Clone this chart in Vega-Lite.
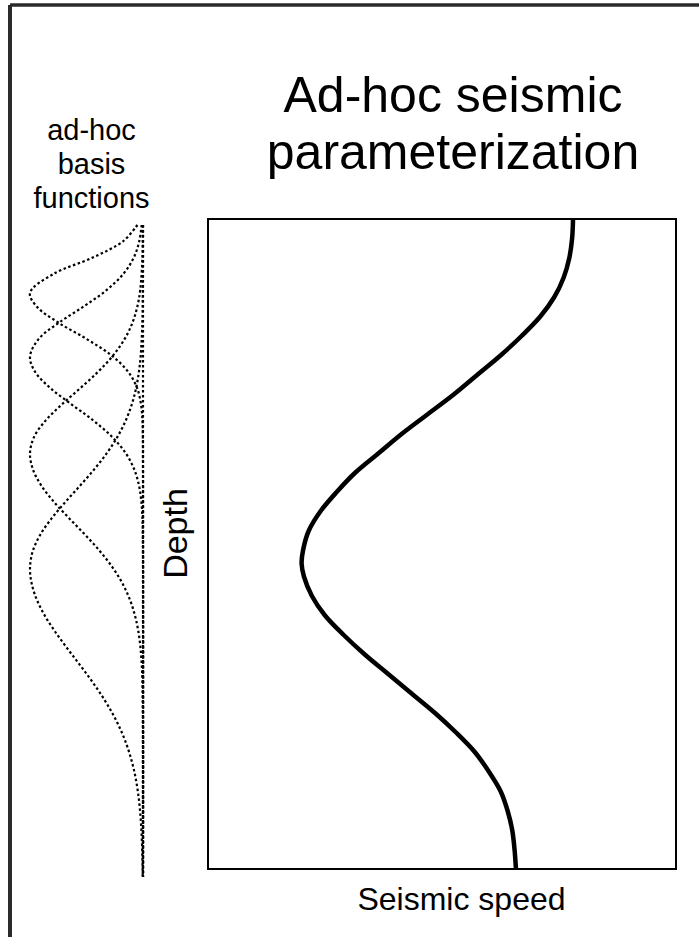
{
  "$schema": "https://vega.github.io/schema/vega-lite/v6.json",
  "padding": {"left": 7, "top": 3, "right": 0, "bottom": 0},
  "config": {
    "font": "Liberation Sans",
    "view": {"stroke": "black", "strokeWidth": 2},
    "title": {"fontWeight": "normal", "color": "black", "font": "Liberation Sans"},
    "axis": {"titleFontWeight": "normal", "titleColor": "black", "titleFont": "Liberation Sans"}
  },
  "datasets": {
    "speed": [
      {"depth": 0.00, "speed": 0.78},
      {"depth": 0.03, "speed": 0.778},
      {"depth": 0.06, "speed": 0.772},
      {"depth": 0.09, "speed": 0.76},
      {"depth": 0.12, "speed": 0.74},
      {"depth": 0.15, "speed": 0.71},
      {"depth": 0.18, "speed": 0.67},
      {"depth": 0.21, "speed": 0.625},
      {"depth": 0.24, "speed": 0.575},
      {"depth": 0.27, "speed": 0.525},
      {"depth": 0.30, "speed": 0.47},
      {"depth": 0.33, "speed": 0.415},
      {"depth": 0.36, "speed": 0.365},
      {"depth": 0.39, "speed": 0.315},
      {"depth": 0.42, "speed": 0.275},
      {"depth": 0.45, "speed": 0.24},
      {"depth": 0.48, "speed": 0.215},
      {"depth": 0.51, "speed": 0.203},
      {"depth": 0.53, "speed": 0.2},
      {"depth": 0.55, "speed": 0.205},
      {"depth": 0.58, "speed": 0.222},
      {"depth": 0.61, "speed": 0.25},
      {"depth": 0.64, "speed": 0.29},
      {"depth": 0.67, "speed": 0.335},
      {"depth": 0.70, "speed": 0.385},
      {"depth": 0.73, "speed": 0.435},
      {"depth": 0.76, "speed": 0.485},
      {"depth": 0.79, "speed": 0.53},
      {"depth": 0.82, "speed": 0.57},
      {"depth": 0.85, "speed": 0.6},
      {"depth": 0.88, "speed": 0.625},
      {"depth": 0.91, "speed": 0.64},
      {"depth": 0.94, "speed": 0.65},
      {"depth": 0.97, "speed": 0.655},
      {"depth": 1.00, "speed": 0.658}
    ],
    "basis": [
      {"fn": 0, "depth": 0, "amp": 0},
      {"fn": 0, "depth": 1, "amp": 0},
      {"fn": 1, "depth": 0, "amp": 0.0496},
      {"fn": 1, "depth": 0.025, "amp": 0.1766},
      {"fn": 1, "depth": 0.05, "amp": 0.4449},
      {"fn": 1, "depth": 0.075, "amp": 0.7917},
      {"fn": 1, "depth": 0.104, "amp": 1},
      {"fn": 1, "depth": 0.125, "amp": 0.9408},
      {"fn": 1, "depth": 0.15, "amp": 0.7461},
      {"fn": 1, "depth": 0.175, "amp": 0.4977},
      {"fn": 1, "depth": 0.2, "amp": 0.2793},
      {"fn": 1, "depth": 0.225, "amp": 0.1318},
      {"fn": 1, "depth": 0.25, "amp": 0.0523},
      {"fn": 1, "depth": 0.275, "amp": 0.0175},
      {"fn": 1, "depth": 0.3, "amp": 0.0049},
      {"fn": 1, "depth": 0.325, "amp": 0.0012},
      {"fn": 1, "depth": 0.35, "amp": 0},
      {"fn": 1, "depth": 1, "amp": 0},
      {"fn": 2, "depth": 0, "amp": 0.0119},
      {"fn": 2, "depth": 0.025, "amp": 0.0334},
      {"fn": 2, "depth": 0.05, "amp": 0.0815},
      {"fn": 2, "depth": 0.075, "amp": 0.1738},
      {"fn": 2, "depth": 0.1, "amp": 0.3234},
      {"fn": 2, "depth": 0.125, "amp": 0.5255},
      {"fn": 2, "depth": 0.15, "amp": 0.7457},
      {"fn": 2, "depth": 0.175, "amp": 0.9239},
      {"fn": 2, "depth": 0.202, "amp": 1},
      {"fn": 2, "depth": 0.225, "amp": 0.9557},
      {"fn": 2, "depth": 0.25, "amp": 0.8208},
      {"fn": 2, "depth": 0.275, "amp": 0.6333},
      {"fn": 2, "depth": 0.3, "amp": 0.4389},
      {"fn": 2, "depth": 0.325, "amp": 0.2733},
      {"fn": 2, "depth": 0.35, "amp": 0.1529},
      {"fn": 2, "depth": 0.375, "amp": 0.0768},
      {"fn": 2, "depth": 0.4, "amp": 0.0347},
      {"fn": 2, "depth": 0.425, "amp": 0.0141},
      {"fn": 2, "depth": 0.45, "amp": 0.0051},
      {"fn": 2, "depth": 0.475, "amp": 0.0017},
      {"fn": 2, "depth": 0.5, "amp": 0},
      {"fn": 2, "depth": 1, "amp": 0},
      {"fn": 3, "depth": 0, "amp": 0.0007},
      {"fn": 3, "depth": 0.05, "amp": 0.0049},
      {"fn": 3, "depth": 0.1, "amp": 0.0248},
      {"fn": 3, "depth": 0.125, "amp": 0.05},
      {"fn": 3, "depth": 0.15, "amp": 0.0938},
      {"fn": 3, "depth": 0.175, "amp": 0.1633},
      {"fn": 3, "depth": 0.2, "amp": 0.2642},
      {"fn": 3, "depth": 0.225, "amp": 0.3967},
      {"fn": 3, "depth": 0.25, "amp": 0.5534},
      {"fn": 3, "depth": 0.275, "amp": 0.7169},
      {"fn": 3, "depth": 0.3, "amp": 0.8625},
      {"fn": 3, "depth": 0.325, "amp": 0.9637},
      {"fn": 3, "depth": 0.35, "amp": 1},
      {"fn": 3, "depth": 0.375, "amp": 0.9737},
      {"fn": 3, "depth": 0.4, "amp": 0.8987},
      {"fn": 3, "depth": 0.425, "amp": 0.7864},
      {"fn": 3, "depth": 0.45, "amp": 0.6523},
      {"fn": 3, "depth": 0.475, "amp": 0.513},
      {"fn": 3, "depth": 0.5, "amp": 0.3824},
      {"fn": 3, "depth": 0.525, "amp": 0.2703},
      {"fn": 3, "depth": 0.55, "amp": 0.1811},
      {"fn": 3, "depth": 0.575, "amp": 0.115},
      {"fn": 3, "depth": 0.6, "amp": 0.0693},
      {"fn": 3, "depth": 0.625, "amp": 0.0395},
      {"fn": 3, "depth": 0.65, "amp": 0.0214},
      {"fn": 3, "depth": 0.675, "amp": 0.011},
      {"fn": 3, "depth": 0.7, "amp": 0.0053},
      {"fn": 3, "depth": 0.75, "amp": 0.0011},
      {"fn": 3, "depth": 0.8, "amp": 0},
      {"fn": 3, "depth": 1, "amp": 0},
      {"fn": 4, "depth": 0, "amp": 0},
      {"fn": 4, "depth": 0.1, "amp": 0.0013},
      {"fn": 4, "depth": 0.15, "amp": 0.0056},
      {"fn": 4, "depth": 0.2, "amp": 0.0202},
      {"fn": 4, "depth": 0.225, "amp": 0.0359},
      {"fn": 4, "depth": 0.25, "amp": 0.0609},
      {"fn": 4, "depth": 0.275, "amp": 0.0989},
      {"fn": 4, "depth": 0.3, "amp": 0.1532},
      {"fn": 4, "depth": 0.325, "amp": 0.2267},
      {"fn": 4, "depth": 0.35, "amp": 0.3205},
      {"fn": 4, "depth": 0.375, "amp": 0.4328},
      {"fn": 4, "depth": 0.4, "amp": 0.5582},
      {"fn": 4, "depth": 0.425, "amp": 0.6875},
      {"fn": 4, "depth": 0.45, "amp": 0.8088},
      {"fn": 4, "depth": 0.475, "amp": 0.9089},
      {"fn": 4, "depth": 0.5, "amp": 0.9755},
      {"fn": 4, "depth": 0.526, "amp": 1},
      {"fn": 4, "depth": 0.55, "amp": 0.985},
      {"fn": 4, "depth": 0.575, "amp": 0.9388},
      {"fn": 4, "depth": 0.6, "amp": 0.8659},
      {"fn": 4, "depth": 0.625, "amp": 0.7727},
      {"fn": 4, "depth": 0.65, "amp": 0.6674},
      {"fn": 4, "depth": 0.675, "amp": 0.5578},
      {"fn": 4, "depth": 0.7, "amp": 0.4511},
      {"fn": 4, "depth": 0.725, "amp": 0.353},
      {"fn": 4, "depth": 0.75, "amp": 0.2673},
      {"fn": 4, "depth": 0.775, "amp": 0.1958},
      {"fn": 4, "depth": 0.8, "amp": 0.1389},
      {"fn": 4, "depth": 0.825, "amp": 0.0953},
      {"fn": 4, "depth": 0.85, "amp": 0.0632},
      {"fn": 4, "depth": 0.875, "amp": 0.0406},
      {"fn": 4, "depth": 0.9, "amp": 0.0253},
      {"fn": 4, "depth": 0.925, "amp": 0.0152},
      {"fn": 4, "depth": 0.95, "amp": 0.0088},
      {"fn": 4, "depth": 0.975, "amp": 0.005},
      {"fn": 4, "depth": 1, "amp": 0.0027}
    ],
    "frame": [
      {"edge": "left"}
    ]
  },
  "spacing": 65,
  "bounds": "flush",
  "hconcat": [
    {
      "width": 113,
      "height": 658,
      "view": {"stroke": null},
      "title": {"text": ["ad-hoc", "basis", "functions"], "fontSize": 29, "lineHeight": 34, "anchor": "middle", "offset": -211, "dx": 5},
      "layer": [
        {
          "data": {"name": "basis"},
          "mark": {"type": "line", "interpolate": "catmull-rom", "strokeDash": [2.5, 2.5], "strokeWidth": 2.2, "color": "black"},
          "encoding": {
            "x": {"field": "amp", "type": "quantitative", "scale": {"domain": [0, 1], "reverse": true, "nice": false, "zero": false}, "axis": null},
            "y": {"field": "depth", "type": "quantitative", "scale": {"domain": [-0.0092, 1], "reverse": true, "nice": false, "zero": false}, "axis": null},
            "detail": {"field": "fn", "type": "nominal"},
            "order": {"field": "depth", "type": "quantitative"}
          }
        },
        {
          "data": {"name": "frame"},
          "mark": {"type": "rule", "color": "#2a2a2a", "strokeWidth": 4, "clip": false},
          "encoding": {
            "x": {"datum": 1.177, "type": "quantitative"},
            "y": {"datum": -0.3374, "type": "quantitative"},
            "y2": {"datum": 1.092}
          }
        },
        {
          "data": {"name": "frame"},
          "mark": {"type": "rule", "color": "#2a2a2a", "strokeWidth": 3.5, "clip": false},
          "encoding": {
            "y": {"datum": -0.3374, "type": "quantitative"},
            "x": {"datum": 1.177, "type": "quantitative"},
            "x2": {"datum": -4.929}
          }
        }
      ]
    },
    {
      "width": 468,
      "height": 650,
      "title": {"text": ["Ad-hoc seismic", "parameterization"], "fontSize": 50, "lineHeight": 57, "anchor": "middle", "offset": 31, "dx": 11},
      "data": {"name": "speed"},
      "mark": {"type": "line", "interpolate": "catmull-rom", "strokeWidth": 4.5, "color": "black"},
      "encoding": {
        "x": {"field": "speed", "type": "quantitative", "scale": {"domain": [0, 1], "nice": false, "zero": false},
              "axis": {"title": "Seismic speed", "domain": false, "ticks": false, "labels": false, "grid": false, "titleFontSize": 32, "titlePadding": 15, "titleX": 253}},
        "y": {"field": "depth", "type": "quantitative", "scale": {"domain": [0, 1], "reverse": true, "nice": false, "zero": false},
              "axis": {"title": "Depth", "domain": false, "ticks": false, "labels": false, "grid": false, "titleFontSize": 34, "titlePadding": 15, "titleY": 314}},
        "order": {"field": "depth", "type": "quantitative"}
      }
    }
  ]
}
